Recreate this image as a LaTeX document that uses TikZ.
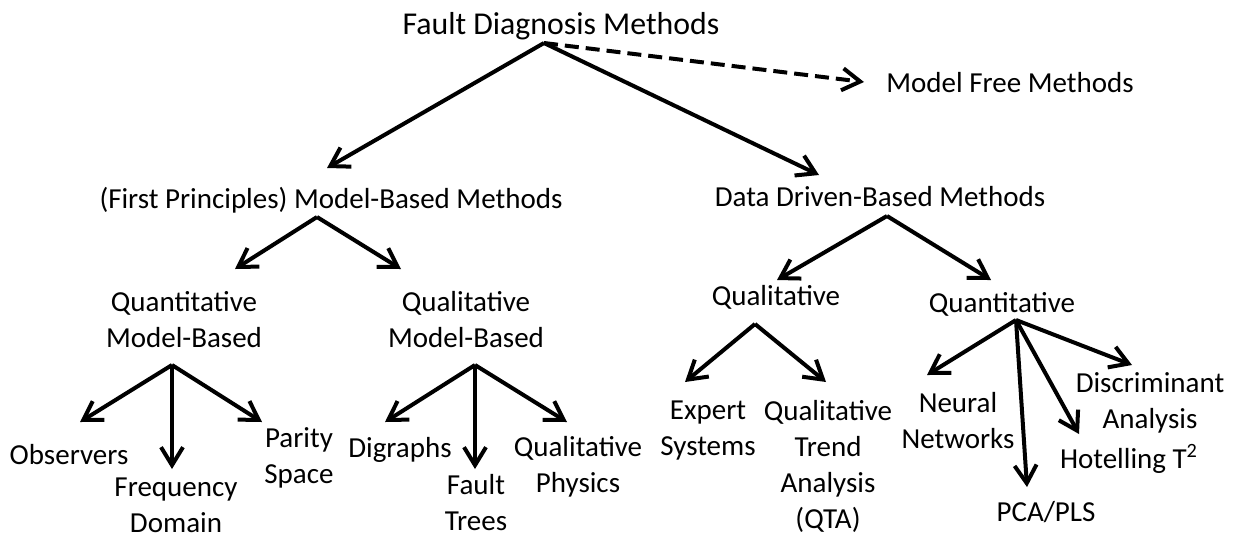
\documentclass[tikz,border=0pt]{standalone}
\usepackage{fontspec}
\setmainfont{Carlito}
\usetikzlibrary{arrows.meta, calc}
\tikzset{
	->, % every connector is an arrow
	>={Straight Barb[length=9pt,width=11pt]}, % open arrow heads
	box/.style={inner sep=0pt, align=center, font=\fontsize{14.5}{18}\selectfont}, % plain text label
	title/.style={box, font=\fontsize{15.9}{19}\selectfont}, % the root label
	maybe/.style={dash pattern=on 7pt off 3.5pt}, % dashed connector
}
\begin{document}
\begin{tikzpicture}[x=0.5pt, y=-0.5pt, line width=2pt]
	\useasboundingbox (0,0) rectangle (1235,537);
	% top level
	\node[title] (fdm) at (561,26) {Fault Diagnosis Methods};
	\node[box] (mfm) at (1010,83) {Model Free Methods};
	\node[box] (fpm) at (331,200) {(First Principles) Model-Based Methods};
	\node[box] (ddm) at (880,197) {Data Driven-Based Methods};
	% second level
	\node[box] (qnmb) at (184,320) {Quantitative\\Model-Based};
	\node[box] (qlmb) at (466,320) {Qualitative\\Model-Based};
	\node[box] (dql) at (776,297) {Qualitative};
	\node[box] (dqn) at (1002,304) {Quantitative};
	% leaves
	\node[box] (obs) at (69,455) {Observers};
	\node[box] (freq) at (176,505) {Frequency\\Domain};
	\node[box] (par) at (299,458) {Parity\\Space};
	\node[box] (dig) at (400,450) {Digraphs};
	\node[box] (ft) at (476,503) {Fault\\Trees};
	\node[box] (qp) at (578,467) {Qualitative\\Physics};
	\node[box] (exp) at (708,431) {Expert\\Systems};
	\node[box] (qta) at (828,466) {Qualitative\\Trend\\Analysis\\(QTA)};
	\node[box] (nn) at (958,421) {Neural\\Networks};
	\node[box] (pca) at (1046,512) {PCA/PLS};
	\node[box] (disc) at (1150,403) {Discriminant\\Analysis};
	\node[box] (hot) at (1129,459) {Hotelling T\textsuperscript{2}};

	\draw[maybe] ($(fdm)+(-17,17)$) -- ($(mfm)+(-146,-1)$);
	\draw ($(fdm)+(-17,17)$) -- ($(fpm)+(-4,-32)$);
	\draw ($(fdm)+(-17,17)$) -- ($(ddm)+(-61,-22)$);

	\draw ($(fpm)+(-14,17)$) -- ($(qnmb)+(51,-51)$);
	\draw ($(fpm)+(-14,17)$) -- ($(qlmb)+(-65,-51)$);
	\draw ($(ddm)+(7,19)$) -- ($(dql)+(1,-17)$);
	\draw ($(ddm)+(7,19)$) -- ($(dqn)+(-11,-24)$);

	\draw ($(qnmb)+(-12,45)$) -- ($(obs)+(11,-33)$);
	\draw ($(qnmb)+(-12,45)$) -- ($(freq)+(-4,-36)$);
	\draw ($(qnmb)+(-12,45)$) -- ($(par)+(-37,-36)$);
	\draw ($(qlmb)+(9,45)$) -- ($(dig)+(-15,-28)$);
	\draw ($(qlmb)+(9,45)$) -- ($(ft)+(-1,-34)$);
	\draw ($(qlmb)+(9,45)$) -- ($(qp)+(-11,-45)$);
	\draw ($(dql)+(-21,27)$) -- ($(exp)+(-23,-49)$);
	\draw ($(dql)+(-21,27)$) -- ($(qta)+(-2,-84)$);
	\draw ($(dqn)+(14,16)$) -- ($(nn)+(-31,-46)$);
	\draw ($(dqn)+(14,16)$) -- ($(pca)+(-19,-25)$);
	\draw ($(dqn)+(14,16)$) -- ($(hot)+(-50,-25)$);
	\draw ($(dqn)+(14,16)$) -- ($(disc)+(-18,-38)$);
\end{tikzpicture}
\end{document}
